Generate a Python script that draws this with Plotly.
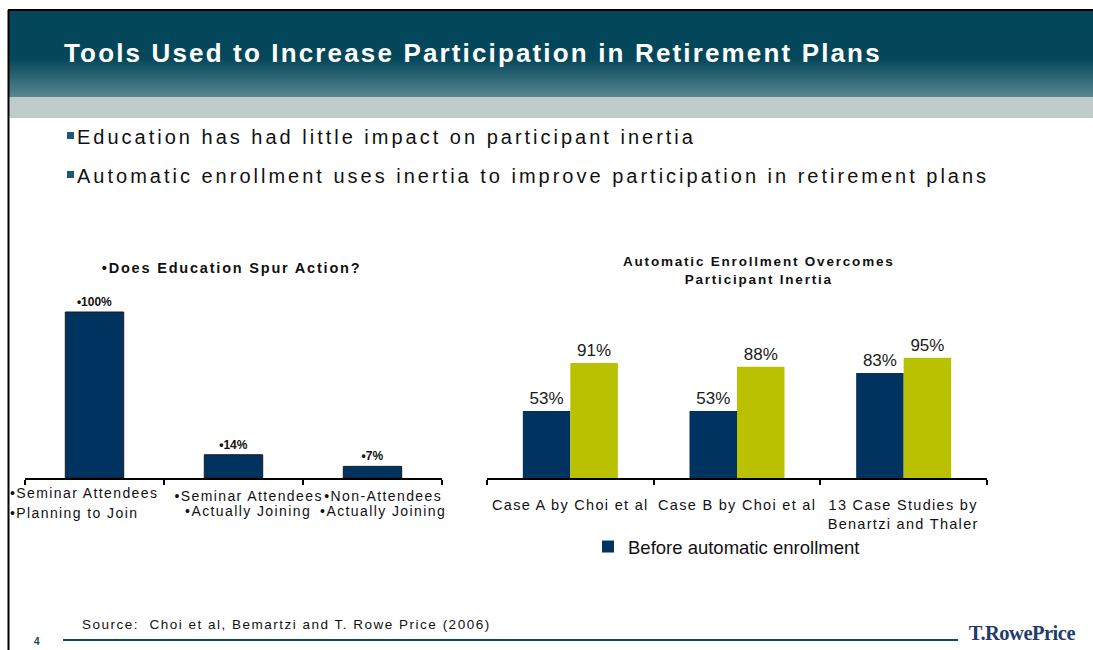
import json
import plotly.graph_objects as go

W, H = 1093, 650

# ---- data -------------------------------------------------------------
edu_labels = [
    ["•Seminar Attendees", "•Planning to Join"],
    ["•Seminar Attendees", "•Actually Joining"],
    ["•Non-Attendees", "•Actually Joining"],
]
edu_pct = [100, 14, 7]

case_labels = [
    "Case A by Choi et al",
    "Case B by Choi et al",
    "13 Case Studies by<br>Benartzi and Thaler",
]
before_pct = [53, 53, 83]
after_pct = [91, 88, 95]

bullets = [
    "Education has had little impact on participant inertia",
    "Automatic enrollment uses inertia to improve participation in retirement plans",
]

# ---- styling ----------------------------------------------------------
NAVY = "#00335f"
OLIVE = "#b9c100"
TEAL = "#0b4a60"
FONT = "Liberation Sans, Arial, sans-serif"


def px(x):
    return x / W


def py(y):
    return 1 - y / H


def mix(c1, c2, t):
    a = [int(c1[i:i + 2], 16) for i in (1, 3, 5)]
    b = [int(c2[i:i + 2], 16) for i in (1, 3, 5)]
    return "#" + "".join(f"{round(a[k] + (b[k] - a[k]) * t):02x}" for k in range(3))


fig = go.Figure()

# left chart: education bars
fig.add_trace(go.Bar(
    x=[0, 1, 2], y=edu_pct, width=0.42,
    marker=dict(color=NAVY, line=dict(color="#1a1a1a", width=1)),
    text=[f"•{v}%" for v in edu_pct], textposition="outside",
    textfont=dict(family=FONT, size=12, color="#111111", weight="bold"),
    cliponaxis=False, showlegend=False, hoverinfo="skip",
    xaxis="x", yaxis="y",
))

# right chart: before / after automatic enrollment
fig.add_trace(go.Bar(
    x=[0, 1, 2], y=before_pct, width=0.285, offset=-0.285,
    name="Before automatic enrollment",
    marker=dict(color=NAVY, line=dict(width=0)),
    text=[f"{v}%" for v in before_pct], textposition="outside",
    textfont=dict(family=FONT, size=17, color="#1a1a1a"),
    cliponaxis=False, hoverinfo="skip",
    xaxis="x2", yaxis="y2",
))
fig.add_trace(go.Bar(
    x=[0, 1, 2], y=after_pct, width=0.285, offset=0,
    name="After automatic enrollment",
    marker=dict(color=OLIVE, line=dict(width=0)),
    text=[f"{v}%" for v in after_pct], textposition="outside",
    textfont=dict(family=FONT, size=17, color="#1a1a1a"),
    cliponaxis=False, showlegend=False, hoverinfo="skip",
    xaxis="x2", yaxis="y2",
))

xcommon = dict(
    range=[-0.5, 2.5], tickvals=[-0.5, 0.5, 1.5, 2.5], ticks="outside",
    ticklen=5, tickwidth=1.5, tickcolor="#000000", showticklabels=False,
    showline=True, linecolor="#000000", linewidth=2,
    showgrid=False, zeroline=False, fixedrange=True,
)
fig.update_layout(
    xaxis=dict(domain=[px(25), px(442)], anchor="y", **xcommon),
    yaxis=dict(domain=[py(478), py(290)], range=[0, 188 / 1.66], visible=False),
    xaxis2=dict(domain=[px(487), px(987)], anchor="y2", **xcommon),
    yaxis2=dict(domain=[py(478), py(330)], range=[0, 148 / 1.265], visible=False),
)

# ---- slide decoration -------------------------------------------------
shapes = []
# header band with a vertical gradient (overlapping strips, no seams)
top_col, bot_col = "#04465a", "#5a8793"
shapes.append(dict(type="rect", xref="paper", yref="paper", x0=px(8), x1=1,
                   y0=py(97), y1=py(10), fillcolor=top_col, line=dict(width=0), layer="below"))
steps = 30
for i in range(steps):
    ya = 58 + (97 - 58) * i / steps
    shapes.append(dict(type="rect", xref="paper", yref="paper", x0=px(8), x1=1,
                       y0=py(97), y1=py(ya), fillcolor=mix(top_col, bot_col, (i + 0.5) / steps),
                       line=dict(width=0), layer="below"))
# light band below header
shapes.append(dict(type="rect", xref="paper", yref="paper", x0=px(8), x1=1,
                   y0=py(118), y1=py(97), fillcolor="#c0ccc9", line=dict(width=0), layer="below"))
# black frame (top and left)
shapes.append(dict(type="line", xref="paper", yref="paper", x0=px(8), x1=1,
                   y0=py(10), y1=py(10), line=dict(color="#000000", width=2)))
shapes.append(dict(type="line", xref="paper", yref="paper", x0=px(8.5), x1=px(8.5),
                   y0=py(10), y1=0, line=dict(color="#000000", width=2)))
# footer rule
shapes.append(dict(type="line", xref="paper", yref="paper", x0=px(63), x1=px(958),
                   y0=py(640), y1=py(640), line=dict(color=TEAL, width=2)))
# bullet squares
for yy in (135.5, 174.5):
    shapes.append(dict(type="rect", xref="paper", yref="paper", x0=px(67), x1=px(74),
                       y0=py(yy + 3.5), y1=py(yy - 3.5), fillcolor="#1f5877", line=dict(width=0)))

ann = []
spacing = []  # letter spacing (px) for each annotation, applied after render


def text(x, y, s, size, color="#111111", bold=False, xanchor="left", family=FONT, ls=0, **kw):
    kw.setdefault("align", "left" if xanchor == "left" else "center")
    ann.append(dict(x=px(x), y=py(y), xref="paper", yref="paper", text=s, showarrow=False,
                    xanchor=xanchor, yanchor="middle",
                    font=dict(family=family, size=size, color=color, weight="bold" if bold else "normal"),
                    **kw))
    spacing.append(ls)


text(62, 53, "Tools Used to Increase Participation in Retirement Plans", 26, "#ffffff", True, ls=2.15)
for s, yy in zip(bullets, (137, 176)):
    text(75, yy, s, 20, "#111111", ls=3.0)

text(231, 268, "•Does Education Spur Action?", 14.5, "#111111", True, xanchor="center", ls=1.8)
text(759, 270, "Automatic Enrollment Overcomes<br>Participant Inertia", 13.5, "#111111", True,
     xanchor="center", ls=1.8)

# category labels under the education bars
edu_pos = [(8, 492.5, 513, "left"), (248, 496, 511, "center"), (383, 496, 511, "center")]
for (l1, l2), (xx, ya, yb, anc) in zip(edu_labels, edu_pos):
    text(xx, ya, l1, 14, "#111111", xanchor=anc, ls=1.4)
    text(xx, yb, l2, 14, "#111111", xanchor=anc, ls=1.4)

# category labels under the enrollment bars
for i, lab in enumerate(case_labels):
    ann.append(dict(x=i, y=0, xref="x2", yref="y2", text=lab, showarrow=False,
                    xanchor="center", yanchor="top", yshift=-17, align="center",
                    font=dict(family=FONT, size=14.5, color="#111111")))
    spacing.append(1.3)

text(80, 624, "Source:  Choi et al, Bemartzi and T. Rowe Price (2006)", 13.5, "#111111", ls=1.5)
text(37, 641, "4", 10, TEAL, True, xanchor="center")
text(1022, 633, "T.RowePrice", 20.5, "#1f3c6b", True, xanchor="center",
     family="Liberation Serif, Times New Roman, serif", ls=-0.5)

fig.update_layout(
    width=W, height=H, margin=dict(l=0, r=0, t=0, b=0),
    paper_bgcolor="#ffffff", plot_bgcolor="rgba(0,0,0,0)",
    barmode="overlay", shapes=shapes, annotations=ann,
    showlegend=True,
    legend=dict(x=px(588), y=py(547), xanchor="left", yanchor="middle",
                font=dict(family=FONT, size=18.5, color="#111111"),
                bgcolor="rgba(0,0,0,0)", borderwidth=0, itemwidth=30),
    font=dict(family=FONT),
)

# widen the tracking of the slide text once the figure is drawn
post = """
var gd = document.getElementById('{plot_id}');
var sp = %s;
gd.querySelectorAll('g.annotation').forEach(function (g) {
  var i = +g.getAttribute('data-index');
  var t = g.querySelector('text.annotation-text');
  if (t && sp[i]) { t.style.letterSpacing = sp[i] + 'px'; }
});
""" % json.dumps(spacing)

fig.write_html("out.html", post_script=post)
